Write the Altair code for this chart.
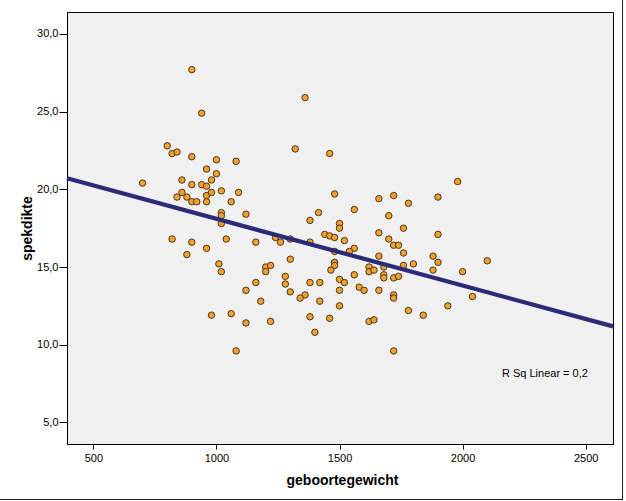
import altair as alt
import pandas as pd

# birth weight (g) and skinfold thickness
geboortegewicht = [
    900, 940, 1360, 1320, 800, 820, 840, 900, 1000, 1080,
    700, 860, 960, 1000, 980, 900, 940, 960, 860, 840,
    880, 900, 920, 960, 960, 980, 1020, 1060, 1090, 1020,
    1020, 1020, 1120, 1380, 1415, 820, 900, 960, 1040, 1160,
    1240, 1260, 1300, 1380, 1460, 1480, 1660, 1560, 1500, 1500,
    1660, 1440, 1460, 1480, 1520, 1560, 1980, 1720, 1900, 1780,
    1700, 1760, 1700, 1720, 1740, 1900, 1760, 1880, 1900, 2100,
    1800, 1760, 1880, 2000, 1660, 1680, 1680, 1680, 1720, 1740,
    1660, 1720, 1720, 2040, 1940, 1780, 1840, 1720, 1480, 1540,
    1300, 1200, 1220, 1200, 1480, 1480, 1465, 1560, 1620, 1620,
    1640, 1280, 1160, 1280, 1380, 1420, 1500, 1520, 1500, 1300,
    1580, 1600, 1360, 1340, 1180, 1420, 1500, 1380, 1460, 1220,
    1620, 1640, 1400, 880, 1010, 1020, 1120, 980, 1060, 1120,
    1080,
]
spekdikte = [
    27.7, 24.9, 25.9, 22.6, 22.8, 22.3, 22.4, 22.1, 21.9, 21.8,
    20.4, 20.6, 21.3, 21.0, 20.6, 20.3, 20.3, 20.2, 19.8, 19.5,
    19.5, 19.2, 19.2, 19.2, 19.6, 19.8, 19.9, 19.2, 19.8, 18.5,
    18.3, 17.8, 18.4, 18.0, 18.5, 16.8, 16.6, 16.2, 16.8, 16.6,
    16.9, 16.6, 16.8, 16.6, 22.3, 19.7, 19.4, 18.7, 17.8, 17.5,
    17.2, 17.1, 17.0, 16.9, 16.7, 16.2, 20.5, 19.6, 19.5, 19.1,
    18.3, 17.5, 16.8, 16.4, 16.4, 17.1, 15.9, 15.7, 15.3, 15.4,
    15.2, 15.1, 14.8, 14.7, 15.7, 15.0, 14.5, 14.3, 14.3, 14.4,
    13.5, 13.2, 13.0, 13.1, 12.5, 12.2, 11.9, 9.6, 16.0, 16.0,
    15.5, 15.0, 15.1, 14.7, 15.3, 15.1, 14.8, 14.5, 15.0, 14.7,
    14.8, 14.4, 14.0, 13.9, 14.0, 14.0, 14.2, 14.0, 13.5, 13.4,
    13.7, 13.5, 13.2, 13.0, 12.8, 12.8, 12.5, 11.8, 11.7, 11.5,
    11.5, 11.6, 10.8, 15.8, 15.2, 14.7, 13.5, 11.9, 12.0, 11.4,
    9.6,
]

x_domain = [393, 2611]
y_domain = [3.61, 31.41]
x_ticks = [500, 1000, 1500, 2000, 2500]
y_ticks = [5, 10, 15, 20, 25, 30]

label_text = ["R Sq Linear = 0,2"]
label_x = [2160]
label_y = [8.1]

df = pd.DataFrame({"geboortegewicht": geboortegewicht, "spekdikte": spekdikte})
lab = pd.DataFrame({"t": label_text, "x": label_x, "y": label_y})

FONT = "Liberation Sans"
W, H = 546, 432

xenc = alt.X(
    "geboortegewicht:Q",
    scale=alt.Scale(domain=x_domain, nice=False, zero=False),
    axis=alt.Axis(
        values=x_ticks, title="geboortegewicht", grid=False, format="d",
        tickSize=5, labelPadding=3, labelFontSize=11, labelFont=FONT,
        labelColor="black", tickColor="black", domainColor="black",
        titleFont=FONT, titleFontSize=14, titleFontWeight="bold", titleColor="black",
        titleX=W / 2 + 2, titleY=36, titleBaseline="middle",
    ),
)
yenc = alt.Y(
    "spekdikte:Q",
    scale=alt.Scale(domain=y_domain, nice=False, zero=False),
    axis=alt.Axis(
        values=y_ticks, title="spekdikte", grid=False,
        labelExpr="replace(format(datum.value, '.1f'), '.', ',')",
        tickSize=8, labelPadding=1, labelFontSize=11, labelFont=FONT,
        labelColor="black", tickColor="black", domainColor="black",
        titleFont=FONT, titleFontSize=14, titleFontWeight="bold", titleColor="black",
        titleX=-40, titleY=H / 2, titleBaseline="middle", titleAngle=-90,
    ),
)

points = alt.Chart(df).mark_point(
    filled=True, shape="circle", size=42, fill="#F0A030",
    stroke="#3A2A10", strokeWidth=0.9, opacity=1,
).encode(x=xenc, y=yenc)

fit = alt.Chart(df).transform_regression(
    "geboortegewicht", "spekdikte", extent=x_domain
).mark_line(color="#2B2B78", strokeWidth=4.2).encode(
    x=alt.X("geboortegewicht:Q", scale=alt.Scale(domain=x_domain, nice=False, zero=False)),
    y=alt.Y("spekdikte:Q", scale=alt.Scale(domain=y_domain, nice=False, zero=False)),
)

text = alt.Chart(lab).mark_text(
    align="left", baseline="middle", font=FONT, fontSize=11, color="black"
).encode(
    x=alt.X("x:Q", scale=alt.Scale(domain=x_domain, nice=False, zero=False)),
    y=alt.Y("y:Q", scale=alt.Scale(domain=y_domain, nice=False, zero=False)),
    text="t:N",
)

border_r = alt.Chart(lab).mark_rule(color="#222222", strokeWidth=1).encode(
    x=alt.value(555.5), y=alt.value(-12), y2=alt.value(488)
)
border_b = alt.Chart(lab).mark_rule(color="#222222", strokeWidth=1).encode(
    x=alt.value(-67), x2=alt.value(555.5), y=alt.value(487.5)
)

chart = alt.layer(points, fit, text, border_r, border_b).properties(
    width=W, height=H,
    autosize=alt.AutoSizeParams(type="none"),
    padding={"left": 67, "top": 12, "right": 13, "bottom": 57},
    background="white",
).configure_view(
    fill="#F0F0F0", stroke="black", strokeWidth=1
)

chart.save("out.html", embed_options={"renderer": "svg", "actions": False})
